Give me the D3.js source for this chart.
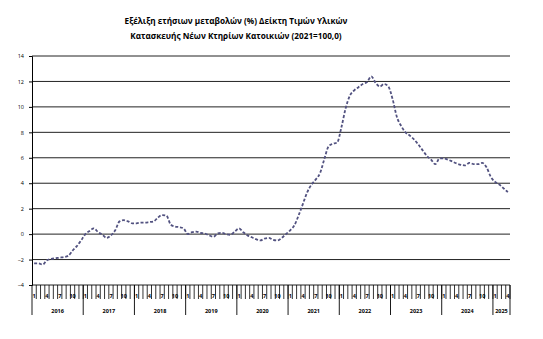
<!DOCTYPE html>
<html>
<head>
<meta charset="utf-8">
<script src="https://cdn.jsdelivr.net/npm/d3@7/dist/d3.min.js"></script>
<style>
  html, body { margin: 0; padding: 0; background: #fff; }
  svg { display: block; }
  text { font-family: "Open Sans", "Noto Sans", sans-serif; fill: #000; }
</style>
</head>
<body>
<svg id="chart" width="543" height="339"></svg>
<script>
// Annual % change of the construction materials price index (new residential buildings), 2021=100
const titleLines = [
  "Εξέλιξη ετήσιων μεταβολών (%) Δείκτη Τιμών Υλικών",
  "Κατασκευής Νέων Κτηρίων Κατοικιών (2021=100,0)"
];

const years = [2016, 2017, 2018, 2019, 2020, 2021, 2022, 2023, 2024, 2025];

// monthly values, one array per year
const v2016 = [-2.3, -2.3, -2.4, -2.05, -1.95, -1.9, -1.85, -1.8, -1.7, -1.3, -0.95, -0.5];
const v2017 = [0.0, 0.25, 0.45, 0.15, -0.05, -0.3, -0.1, 0.3, 1.0, 1.1, 1.0, 0.85];
const v2018 = [0.85, 0.9, 0.9, 0.95, 1.0, 1.3, 1.5, 1.45, 0.75, 0.6, 0.55, 0.45];
const v2019 = [0.0, 0.15, 0.2, 0.1, 0.05, -0.1, -0.2, 0.05, 0.1, 0.0, -0.05, 0.2];
const v2020 = [0.45, 0.15, -0.1, -0.25, -0.4, -0.5, -0.35, -0.3, -0.45, -0.5, -0.3, 0.0];
const v2021 = [0.3, 0.7, 1.5, 2.4, 3.3, 3.9, 4.3, 4.8, 5.9, 6.9, 7.1, 7.2];
const v2022 = [8.4, 9.9, 10.9, 11.3, 11.55, 11.8, 11.95, 12.4, 11.9, 11.6, 11.8, 11.6];
const v2023 = [10.6, 9.2, 8.5, 8.0, 7.75, 7.45, 7.05, 6.6, 6.15, 5.85, 5.5, 5.95];
const v2024 = [5.95, 5.85, 5.7, 5.55, 5.45, 5.4, 5.6, 5.5, 5.5, 5.6, 5.25, 4.5];
const v2025 = [4.1, 3.9, 3.6, 3.3];

const seriesByYear = [v2016, v2017, v2018, v2019, v2020, v2021, v2022, v2023, v2024, v2025];

const yTicks = [-4, -2, 0, 2, 4, 6, 8, 10, 12, 14];
const monthTickLabels = [1, 4, 7, 10];

// flatten into monthly records
const data = [];
seriesByYear.forEach((arr, yi) => {
  arr.forEach((v, mi) => data.push({ key: years[yi] + "-" + (mi + 1), year: years[yi], month: mi + 1, value: v }));
});

const svg = d3.select("#chart");
const margin = { left: 32, right: 33, top: 56, bottom: 54 };
const W = 543, H = 339;

const x = d3.scaleBand()
  .domain(data.map(d => d.key))
  .range([margin.left, W - margin.right])
  .padding(0);

const y = d3.scaleLinear()
  .domain([-4, 14])
  .range([H - margin.bottom, margin.top]);

// title
svg.append("g").selectAll("text")
  .data(titleLines)
  .join("text")
  .attr("x", 236)
  .attr("y", (d, i) => 24 + i * 15)
  .attr("text-anchor", "middle")
  .attr("font-size", 8.2)
  .attr("font-weight", "bold")
  .text(d => d);

// horizontal gridlines
svg.append("g").selectAll("line")
  .data(yTicks)
  .join("line")
  .attr("x1", margin.left)
  .attr("x2", W - margin.right)
  .attr("y1", d => y(d))
  .attr("y2", d => y(d))
  .attr("stroke", "#222")
  .attr("stroke-width", 1);

// y axis
const yAxis = d3.axisLeft(y).tickValues(yTicks).tickSize(3).tickPadding(5).tickFormat(d3.format("d"));
const gy = svg.append("g").attr("transform", `translate(${margin.left},0)`).call(yAxis);
gy.select(".domain").attr("stroke", "#000");
gy.selectAll(".tick line").attr("stroke", "#000");
gy.selectAll("text").attr("font-size", 5.5).attr("font-family", "Open Sans, sans-serif");

// month ticks at band boundaries
const bottom = y(-4);
const step = x.step();
const gx = svg.append("g");
gx.selectAll("line.m")
  .data(data)
  .join("line")
  .attr("class", "m")
  .attr("x1", d => x(d.key) + step)
  .attr("x2", d => x(d.key) + step)
  .attr("y1", bottom)
  .attr("y2", bottom + 14)
  .attr("stroke", "#000")
  .attr("stroke-width", 0.8);

// year separators
const yearStarts = years.map(yr => data.find(d => d.year === yr).key);
gx.selectAll("line.yr")
  .data(yearStarts)
  .join("line")
  .attr("class", "yr")
  .attr("x1", d => x(d))
  .attr("x2", d => x(d))
  .attr("y1", bottom)
  .attr("y2", bottom + 30)
  .attr("stroke", "#000")
  .attr("stroke-width", 0.9);
gx.append("line")
  .attr("x1", x.range()[1]).attr("x2", x.range()[1])
  .attr("y1", bottom).attr("y2", bottom + 30)
  .attr("stroke", "#000").attr("stroke-width", 0.9);

// month labels
gx.selectAll("text.m")
  .data(data.filter(d => monthTickLabels.includes(d.month)))
  .join("text")
  .attr("class", "m")
  .attr("x", d => x(d.key) + step / 2)
  .attr("y", bottom + 12.5)
  .attr("text-anchor", "middle")
  .attr("font-size", 5.5)
  .attr("font-weight", "bold")
  .text(d => d.month);

// year labels
gx.selectAll("text.yr")
  .data(years)
  .join("text")
  .attr("class", "yr")
  .attr("x", yr => {
    const ds = data.filter(d => d.year === yr);
    return (x(ds[0].key) + x(ds[ds.length - 1].key) + step) / 2;
  })
  .attr("y", bottom + 28)
  .attr("text-anchor", "middle")
  .attr("font-size", 5.5)
  .attr("font-weight", "bold")
  .text(d => d);

// series line
const line = d3.line()
  .x(d => x(d.key) + step / 2)
  .y(d => y(d.value))
  .curve(d3.curveMonotoneX);

svg.append("path")
  .datum(data)
  .attr("d", line)
  .attr("fill", "none")
  .attr("stroke", "#525280")
  .attr("stroke-width", 1.8)
  .attr("stroke-dasharray", "3,1.8");
</script>
</body>
</html>
